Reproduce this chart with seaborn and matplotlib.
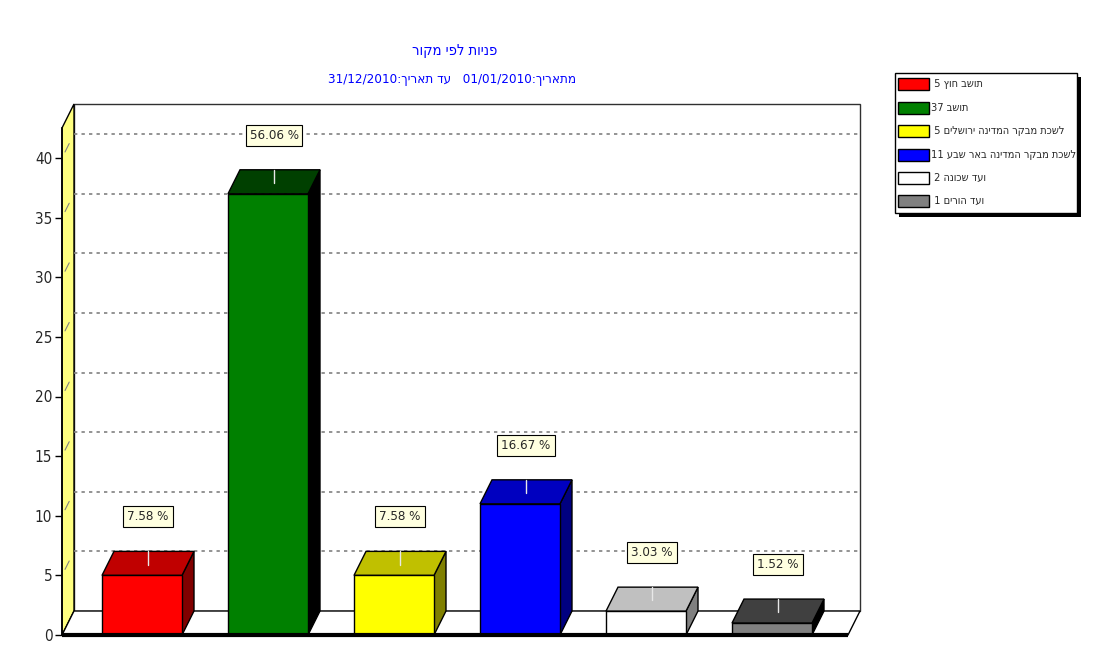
import re
import matplotlib
matplotlib.use("Agg")
import matplotlib.pyplot as plt
import seaborn as sns
import pandas as pd
from matplotlib.patches import Polygon, Rectangle

# ---------------- data ----------------
categories = ["תושב חוץ", "תושב", "לשכת מבקר המדינה ירושלים",
              "לשכת מבקר המדינה באר שבע", "ועד שכונה", "ועד הורים"]
counts = [5, 37, 5, 11, 2, 1]
percents = [7.58, 56.06, 7.58, 16.67, 3.03, 1.52]
yticks = [0, 5, 10, 15, 20, 25, 30, 35, 40]
title_lines = ["פניות לפי מקור", "מתאריך:01/01/2010   עד תאריך:31/12/2010"]

front_colors = ["#FF0000", "#008000", "#FFFF00", "#0000FF", "#FFFFFF", "#808080"]
top_colors = ["#C00000", "#004000", "#C0C000", "#0000C0", "#C0C0C0", "#404040"]
side_colors = ["#800000", "#000000", "#808000", "#000080", "#808080", "#000000"]


def visual(s):
    """Very small bidi helper: RTL paragraph -> visual (left-to-right) order."""
    r = s[::-1]
    return re.sub(r"[0-9][0-9/.,:%]*[0-9]|[0-9]", lambda m: m.group(0)[::-1], r)


sns.set_style("white")
FONT = ["DejaVu Sans"]
plt.rcParams["font.family"] = FONT
plt.rcParams["font.stretch"] = "condensed"
ST = "condensed"

W, H = 1110, 668
fig = plt.figure(figsize=(W / 100, H / 100), dpi=100)

# layout (pixel geometry of the reference)
PXU = 11.925          # pixels per value unit
CAT = 126.0           # pixels per category
ax_l, ax_r, ax_b, ax_t = 62, 866, 635, 100
ax = fig.add_axes([ax_l / W, (H - ax_b) / H, (ax_r - ax_l) / W, (ax_b - ax_t) / H])
XL = (62 - 142) / CAT
XR = (848 - 142) / CAT
DX = 12 / CAT
DY = 24 / PXU
YTOP = (635 - 128) / PXU

df = pd.DataFrame({"cat": categories, "count": counts})
sns.barplot(data=df, x="cat", y="count", hue="cat", palette=front_colors,
            width=80 / CAT, edgecolor="black", linewidth=1, legend=False,
            saturation=1, ax=ax)
bars = list(ax.patches)

ax.set_xlim(XL, (ax_r - 142) / CAT)
ax.set_ylim(0, (ax_b - ax_t) / PXU)

# back wall
ax.add_patch(Polygon([(XL + DX, DY), (XR + DX, DY), (XR + DX, YTOP + DY), (XL + DX, YTOP + DY)],
                     closed=True, facecolor="white", edgecolor="#303030", lw=1, zorder=0.5, clip_on=False))
# left wall (yellow)
ax.add_patch(Polygon([(XL, 0), (XL, YTOP), (XL + DX, YTOP + DY), (XL + DX, DY)],
                     closed=True, facecolor="#FFFF80", edgecolor="black", lw=1, zorder=0.6, clip_on=False))
# floor
ax.add_patch(Polygon([(XL, 0), (XR, 0), (XR + DX, DY), (XL + DX, DY)],
                     closed=True, facecolor="white", edgecolor="black", lw=1, zorder=0.6, clip_on=False))
ax.plot([XL, XR], [0, 0], color="black", lw=3, zorder=4, clip_on=False, solid_capstyle="butt")

# grid lines on back wall and side wall
for v in yticks[1:]:
    ax.plot([XL + DX, XR + DX], [v + DY, v + DY], color="#808080", lw=1.2,
            ls=(0, (2, 2.5)), zorder=0.8, clip_on=False)
    ax.plot([XL + DX * 0.25, XL + DX * 0.6], [v + DY * 0.25, v + DY * 0.6], color="#808080",
            lw=0.8, zorder=0.8, clip_on=False)

# 3d faces + labels
for i, b in enumerate(bars):
    x0 = b.get_x()
    w = b.get_width()
    h = b.get_height()
    b.set_zorder(3)
    b.set_clip_on(False)
    top = Polygon([(x0, h), (x0 + w, h), (x0 + w + DX, h + DY), (x0 + DX, h + DY)], closed=True,
                  facecolor=top_colors[i], edgecolor="black", lw=1, zorder=2.5, clip_on=False)
    side = Polygon([(x0 + w, 0), (x0 + w + DX, DY), (x0 + w + DX, h + DY), (x0 + w, h)], closed=True,
                   facecolor=side_colors[i], edgecolor="black", lw=1, zorder=2.5, clip_on=False)
    ax.add_patch(side)
    ax.add_patch(top)
    cx = x0 + w / 2 + DX / 2
    ax.plot([cx, cx], [h + DY * 0.45, h + DY], color="#E8E8E8", lw=1, zorder=2.7, clip_on=False)
    ax.text(cx, h + 4.9, f"{percents[i]:.2f} %", ha="center", va="center", fontsize=9.5,
            family=FONT, fontstretch=ST, zorder=5,
            bbox=dict(boxstyle="square,pad=0.3", facecolor="#FFFFE0", edgecolor="black", lw=0.8))

# axes cosmetics
for s in ["top", "right", "bottom"]:
    ax.spines[s].set_visible(False)
ax.spines["left"].set_bounds(0, YTOP)
ax.spines["left"].set_color("black")
ax.spines["left"].set_linewidth(1.2)
ax.spines["left"].set_zorder(4)
ax.set_yticks(yticks)
ax.set_yticklabels([str(t) for t in yticks], fontsize=11, fontstretch=ST)
ax.tick_params(axis="y", left=True, length=5, width=1, color="black", pad=2)
ax.set_xticks([])
ax.set_xlabel("")
ax.set_ylabel("")
ax.patch.set_visible(False)

# title
fig.text(455 / W, 1 - 50 / H, visual(title_lines[0]), ha="center", va="center",
         color="#0000FF", fontsize=10.5, family=FONT, fontstretch=ST)
fig.text(452 / W, 1 - 79 / H, visual(title_lines[1]), ha="center", va="center",
         color="#0000FF", fontsize=9.6, family=FONT, fontstretch=ST)

# legend (manual, RTL labels)
lx0, ly0, lx1, ly1 = 895, 73, 1077, 213
fig.patches.append(Rectangle((lx0 + 4 - 0.5, H - ly1 - 4), lx1 - lx0, ly1 - ly0, transform=None,
                             facecolor="black", edgecolor="none", zorder=1))
fig.patches.append(Rectangle((lx0, H - ly1), lx1 - lx0, ly1 - ly0, transform=None,
                             facecolor="white", edgecolor="black", lw=1, zorder=2))
row_y = [84, 108, 131, 155, 178, 201]
for i, name in enumerate(categories):
    yc = row_y[i]
    fig.patches.append(Rectangle((898, H - yc - 6), 31, 12, transform=None,
                                 facecolor=front_colors[i], edgecolor="black", lw=1, zorder=3))
    lab = visual(f"{name} {counts[i]}")
    if counts[i] < 10:
        lab = " " + lab
    fig.text(931 / W, 1 - yc / H, lab, ha="left", va="center", fontsize=7.9, family=FONT,
             fontstretch=ST, zorder=4)

fig.savefig("out.png", dpi=100)
